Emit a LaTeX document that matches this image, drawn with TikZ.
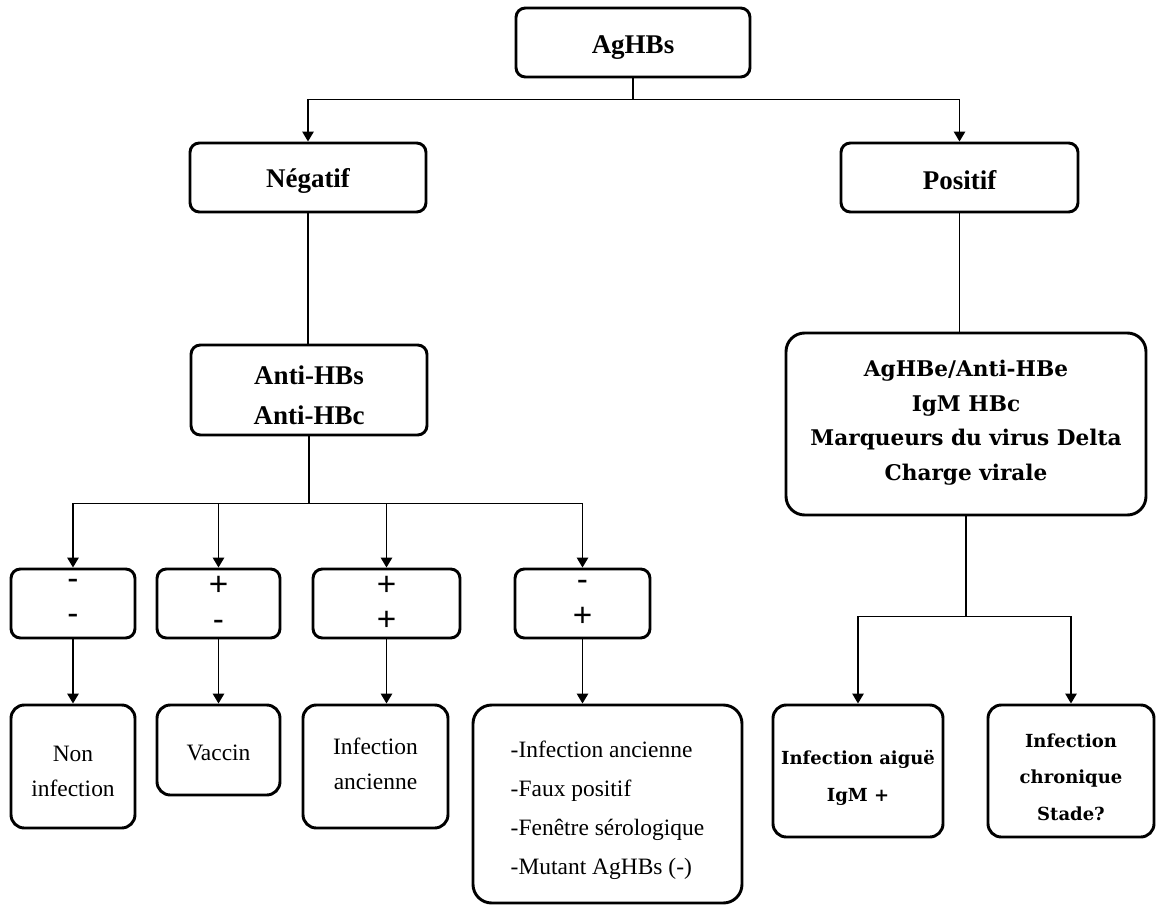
\documentclass[tikz,border=0pt]{standalone}
\usepackage{fontspec}
\setmainfont{Liberation Serif}
\newfontfamily\djv{DejaVu Serif}
\newfontfamily\lsans{Liberation Sans}
\usetikzlibrary{arrows.meta}
\tikzset{
  bx/.style={draw, line width=2.2pt, rounded corners=7pt, inner sep=0pt},
  tx/.style={inner sep=0pt, align=center},
  topfont/.style={tx, font=\fontsize{20.25}{30}\selectfont\bfseries},
  markfont/.style={tx, font=\djv\fontsize{16.2}{25.9}\selectfont\bfseries},
  resfont/.style={tx, font=\fontsize{17.6}{26.25}\selectfont},
  rfont/.style={tx, font=\djv\fontsize{13.5}{27.5}\selectfont\bfseries},
  sgn/.style={tx, font=\lsans\fontsize{25}{26.5}\selectfont},
  ln/.style={line width=0.9pt},
  arr/.style={line width=1.4pt, -{Triangle[length=7.5pt,width=8.5pt]}}
}
\begin{document}
\begin{tikzpicture}[x=0.75pt,y=-0.75pt]
\useasboundingbox[fill=white] (0,0) rectangle (1156,906);
% level 0-1
\node[bx,minimum width=175.5pt,minimum height=51.75pt] (agh) at (633,42.5) {};
\node[topfont] (aghT) at ([yshift=-3.5pt]agh.center) {AgHBs};
\node[bx,minimum width=177pt,minimum height=51.75pt] (neg) at (308,177.5) {};
\node[topfont] (negT) at ([yshift=-2.25pt]neg.center) {Négatif};
\node[bx,minimum width=177.75pt,minimum height=51.75pt] (pos) at (959.5,177.5) {};
\node[topfont] (posT) at ([yshift=-2.25pt]pos.center) {Positif};
% level 2
\node[bx,minimum width=177pt,minimum height=67.5pt] (anti) at (309,390) {};
\node[topfont] (antiT) at ([yshift=-3.75pt]anti.center) {Anti-HBs\\Anti-HBc};
\node[bx,rounded corners=14pt,minimum width=270pt,minimum height=136.5pt] (mark) at (966,424) {};
\node[markfont] (markT) at ([yshift=1pt]mark.center)
  {AgHBe/Anti-HBe\\IgM HBc\\Marqueurs du virus Delta\\Charge virale};
% level 3 sign boxes
\node[bx,minimum width=93pt,minimum height=51.75pt] (s1) at (73,603.5) {};
\node[sgn] (s1T) at ([yshift=1pt]s1.center) {-\\-};
\node[bx,minimum width=92.25pt,minimum height=51.75pt] (s2) at (218.5,603.5) {};
\node[sgn] (s2T) at ([yshift=0pt]s2.center) {+\\-};
\node[bx,minimum width=110.25pt,minimum height=51.75pt] (s3) at (386.5,603.5) {};
\node[sgn] (s3T) at ([yshift=0pt]s3.center) {+\\+};
\node[bx,minimum width=101.25pt,minimum height=51.75pt] (s4) at (582.5,603.5) {};
\node[sgn] (s4T) at ([yshift=0pt]s4.center) {-\\+};
% level 4 results
\node[bx,rounded corners=10pt,minimum width=93pt,minimum height=92.25pt] (b1) at (73,766.5) {};
\node[resfont] (b1T) at ([yshift=-3.75pt]b1.center) {Non\\infection};
\node[bx,rounded corners=10pt,minimum width=92.25pt,minimum height=67.5pt] (b2) at (218.5,750) {};
\node[resfont] (b2T) at ([yshift=-2.25pt]b2.center) {Vaccin};
\node[bx,rounded corners=10pt,minimum width=108.75pt,minimum height=92.25pt] (b3) at (375.5,766.5) {};
\node[resfont] (b3T) at ([yshift=2.25pt]b3.center) {Infection\\ancienne};
\node[bx,rounded corners=14pt,minimum width=201.75pt,minimum height=148.5pt] (b4) at (607.5,804) {};
\node[resfont,align=left,font=\fontsize{17.6}{29.25}\selectfont] (b4T) at ([yshift=-4.5pt]b4.center)
  {-Infection ancienne\\-Faux positif\\-Fenêtre sérologique\\-Mutant AgHBs (-)};
\node[bx,rounded corners=10pt,minimum width=127.5pt,minimum height=99pt] (r1) at (858,771) {};
\node[rfont] (r1T) at ([yshift=-5.25pt]r1.center) {Infection aiguë\\IgM +};
\node[bx,rounded corners=10pt,minimum width=124.5pt,minimum height=99pt] (r2) at (1071,771) {};
\node[rfont] (r2T) at ([yshift=-4.5pt]r2.center) {Infection\\chronique\\Stade?};
% connectors
\draw[ln] (agh.south) -- ++(0,21) coordinate (h1);
\draw[arr] (h1) -| (neg.north);
\draw[arr] (h1) -| (pos.north);
\draw[ln] (neg.south) -- (neg.south |- anti.north);
\draw[ln] (pos.south) -- (pos.south |- mark.north);
\draw[ln] (anti.south) -- ++(0,67) coordinate (h2);
\draw[arr] (h2) -| (s1.north);
\draw[arr] (h2) -| (s2.north);
\draw[arr] (h2) -| (s3.north);
\draw[arr] (h2) -| (s4.north);
\draw[arr] (s1.south) -- (s1.south |- b1.north);
\draw[arr] (s2.south) -- (s2.south |- b2.north);
\draw[arr] (s3.south) -- (s3.south |- b3.north);
\draw[arr] (s4.south) -- (s4.south |- b4.north);
\draw[ln] (mark.south) -- ++(0,100) coordinate (h3);
\draw[arr] (h3) -| (r1.north);
\draw[arr] (h3) -| (r2.north);
\end{tikzpicture}
\end{document}
